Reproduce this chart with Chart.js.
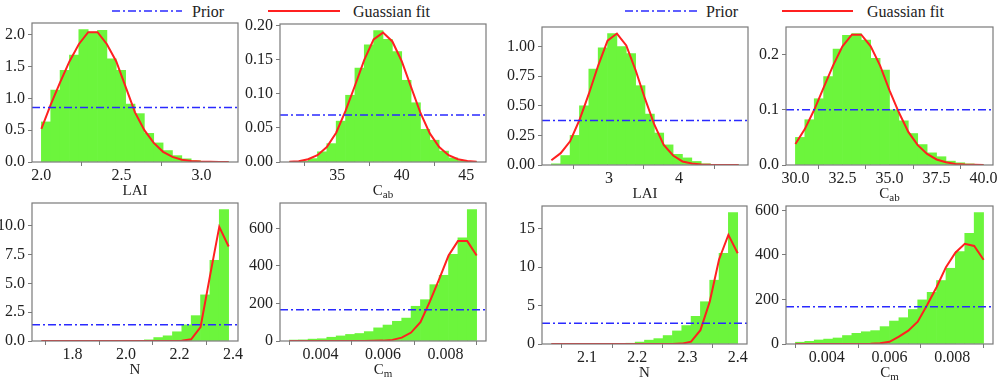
<!DOCTYPE html>
<html>
<head>
<meta charset="utf-8">
<script src="https://cdn.jsdelivr.net/npm/chart.js@4.4.1/dist/chart.umd.min.js"></script>
<style>
  body { margin: 0; background: #fff; width: 1000px; height: 383px; position: relative; overflow: hidden;
         font-family: 'Liberation Serif', 'Times New Roman', serif; color: #222; }
  canvas { position: absolute; }
  .lg { position: absolute; top: 0; font-size: 16px; line-height: 24px; white-space: nowrap; }
</style>
</head>
<body>
<svg style="position:absolute;left:0;top:0" width="1000" height="24">
  <line x1="112" y1="11" x2="182" y2="11" stroke="#2a2aff" stroke-width="1.6" stroke-dasharray="8 3 2 3"/>
  <line x1="268" y1="11" x2="340" y2="11" stroke="#ff2020" stroke-width="2"/>
  <line x1="625" y1="11" x2="697" y2="11" stroke="#2a2aff" stroke-width="1.6" stroke-dasharray="8 3 2 3"/>
  <line x1="782" y1="11" x2="853" y2="11" stroke="#ff2020" stroke-width="2"/>
</svg>
<span class="lg" style="left:192px">Prior</span>
<span class="lg" style="left:353px">Guassian fit</span>
<span class="lg" style="left:706px">Prior</span>
<span class="lg" style="left:867px">Guassian fit</span>

<script>
const lai1Range = [2.0, 3.17];
const lai1Hist = [0.63, 1.13, 1.44, 1.68, 2.08, 2.04, 2.07, 1.62, 1.44, 0.91, 0.76, 0.45, 0.30, 0.18, 0.10, 0.05, 0.02, 0.01, 0.005, 0.003];
const lai1Fit = [0.52, 0.90, 1.25, 1.58, 1.85, 2.04, 2.04, 1.85, 1.58, 1.18, 0.78, 0.50, 0.30, 0.16, 0.08, 0.035, 0.015, 0.006, 0.002, 0.001, 0.0005];
const lai1Prior = 0.855;
const lai1XTicks = ['2.0', '2.5', '3.0'];
const lai1YTicks = ['0.0', '0.5', '1.0', '1.5', '2.0'];

const cab1Range = [31.3, 45.8];
const cab1Hist = [0.0005, 0.001, 0.005, 0.015, 0.027, 0.060, 0.098, 0.138, 0.172, 0.193, 0.180, 0.162, 0.120, 0.087, 0.048, 0.032, 0.016, 0.006, 0.002, 0.001];
const cab1Fit = [0.0005, 0.001, 0.004, 0.010, 0.022, 0.043, 0.075, 0.112, 0.150, 0.180, 0.190, 0.177, 0.148, 0.110, 0.072, 0.042, 0.022, 0.010, 0.004, 0.0015, 0.0005];
const cab1Prior = 0.069;
const cab1XTicks = ['35', '40', '45'];
const cab1YTicks = ['0.00', '0.05', '0.10', '0.15', '0.20'];

const lai2Range = [2.18, 4.85];
const lai2Hist = [0.01, 0.08, 0.25, 0.50, 0.81, 0.99, 1.11, 1.00, 0.94, 0.67, 0.43, 0.27, 0.17, 0.09, 0.06, 0.03, 0.01, 0.005, 0.002, 0.001];
const lai2Fit = [0.04, 0.10, 0.20, 0.38, 0.60, 0.84, 1.05, 1.11, 1.01, 0.80, 0.56, 0.34, 0.17, 0.08, 0.03, 0.012, 0.005, 0.002, 0.001, 0.0005, 0.0002];
const lai2Prior = 0.375;
const lai2XTicks = ['3', '4'];
const lai2YTicks = ['0.00', '0.25', '0.50', '0.75', '1.00'];

const cab2Range = [30.0, 40.0];
const cab2Hist = [0.050, 0.082, 0.120, 0.160, 0.210, 0.235, 0.238, 0.226, 0.193, 0.172, 0.100, 0.080, 0.057, 0.037, 0.022, 0.015, 0.007, 0.004, 0.002, 0.001];
const cab2Fit = [0.038, 0.065, 0.100, 0.140, 0.180, 0.215, 0.236, 0.236, 0.215, 0.180, 0.135, 0.095, 0.060, 0.036, 0.020, 0.010, 0.005, 0.002, 0.001, 0.0005, 0.0002];
const cab2Prior = 0.1;
const cab2XTicks = ['30.0', '32.5', '35.0', '37.5', '40.0'];
const cab2YTicks = ['0.0', '0.1', '0.2'];

const n1Range = [1.683, 2.384];
const n1Hist = [0, 0, 0, 0, 0, 0, 0, 0, 0, 0, 0.03, 0.1, 0.3, 0.45, 0.8, 1.4, 2.2, 4.0, 7.0, 11.4];
const n1Fit = [0, 0, 0, 0, 0, 0, 0, 0, 0, 0, 0, 0, 0, 0, 0.002, 0.02, 0.15, 1.2, 5.6, 9.9, 8.2];
const n1Prior = 1.42;
const n1XTicks = ['1.8', '2.0', '2.2', '2.4'];
const n1YTicks = ['0.0', '2.5', '5.0', '7.5', '10.0'];

const cm1Range = [0.003, 0.009];
const cm1Hist = [5, 6, 10, 12, 20, 27, 35, 40, 50, 70, 85, 105, 122, 185, 220, 300, 350, 462, 550, 700];
const cm1Fit = [0, 0, 0, 0, 0, 0, 0, 0.1, 0.3, 0.8, 2, 6, 18, 45, 100, 210, 330, 455, 532, 532, 455];
const cm1Prior = 166.7;
const cm1XTicks = ['0.004', '0.006', '0.008'];
const cm1YTicks = ['0', '200', '400', '600'];

const n2Range = [2.029, 2.4];
const n2Hist = [0, 0, 0, 0, 0, 0.01, 0.02, 0.05, 0.1, 0.25, 0.5, 0.7, 1.1, 1.7, 2.4, 3.6, 5.5, 8.3, 11.8, 17.1];
const n2Fit = [0, 0, 0, 0, 0, 0, 0, 0, 0, 0, 0, 0, 0, 0.005, 0.05, 0.3, 1.8, 5.5, 11.0, 14.2, 11.8];
const n2Prior = 2.7;
const n2XTicks = ['2.1', '2.2', '2.3', '2.4'];
const n2YTicks = ['0', '5', '10', '15'];

const cm2Range = [0.003, 0.009];
const cm2Hist = [8, 12, 18, 22, 27, 38, 48, 55, 60, 78, 103, 118, 155, 198, 232, 285, 340, 415, 497, 590];
const cm2Fit = [0, 0, 0, 0, 0, 0, 0, 0.3, 1, 3, 10, 33, 60, 100, 175, 255, 345, 410, 450, 440, 378];
const cm2Prior = 166.7;
const cm2XTicks = ['0.004', '0.006', '0.008'];
const cm2YTicks = ['0', '200', '400', '600'];

// ---- layout ----
const PAD_L = 44, PAD_T = 8, PAD_R = 10, PAD_B = 44;
const SERIF = "'Liberation Serif', 'Times New Roman', serif";
const BAR_COLOR = '#6cf53c';
const FIT_COLOR = '#ff2020';
const PRIOR_COLOR = '#2a2aff';
const FRAME_COLOR = '#7a7a7a';

const panels = [
  { box: [32, 23, 238, 162], range: lai1Range, hist: lai1Hist, fit: lai1Fit, prior: lai1Prior, xt: lai1XTicks, yt: lai1YTicks, title: ['LAI', ''] },
  { box: [280, 24, 486, 162], range: cab1Range, hist: cab1Hist, fit: cab1Fit, prior: cab1Prior, xt: cab1XTicks, yt: cab1YTicks, title: ['C', 'ab'] },
  { box: [542, 27, 748, 165], range: lai2Range, hist: lai2Hist, fit: lai2Fit, prior: lai2Prior, xt: lai2XTicks, yt: lai2YTicks, title: ['LAI', ''] },
  { box: [786, 27, 993, 165], range: cab2Range, hist: cab2Hist, fit: cab2Fit, prior: cab2Prior, xt: cab2XTicks, yt: cab2YTicks, title: ['C', 'ab'] },
  { box: [32, 203, 238, 341], range: n1Range, hist: n1Hist, fit: n1Fit, prior: n1Prior, xt: n1XTicks, yt: n1YTicks, title: ['N', ''] },
  { box: [280, 203, 486, 341], range: cm1Range, hist: cm1Hist, fit: cm1Fit, prior: cm1Prior, xt: cm1XTicks, yt: cm1YTicks, title: ['C', 'm'] },
  { box: [542, 206, 747, 344], range: n2Range, hist: n2Hist, fit: n2Fit, prior: n2Prior, xt: n2XTicks, yt: n2YTicks, title: ['N', ''] },
  { box: [786, 206, 993, 344], range: cm2Range, hist: cm2Hist, fit: cm2Fit, prior: cm2Prior, xt: cm2XTicks, yt: cm2YTicks, title: ['C', 'm'] }
];

Chart.defaults.font.family = SERIF;
Chart.defaults.color = '#222';

// full box around the plot area
const framePlugin = {
  id: 'frame',
  afterDatasetsDraw(chart) {
    const a = chart.chartArea, ctx = chart.ctx;
    ctx.save();
    ctx.strokeStyle = FRAME_COLOR;
    ctx.lineWidth = 1.2;
    ctx.strokeRect(a.left, a.top, a.right - a.left, a.bottom - a.top);
    ctx.restore();
  }
};

// x axis title with an optional subscript (C_ab, C_m)
const subTitlePlugin = {
  id: 'subTitle',
  afterDraw(chart, args, opts) {
    const a = chart.chartArea, ctx = chart.ctx;
    const main = opts.main, sub = opts.sub;
    ctx.save();
    ctx.fillStyle = '#222';
    ctx.textBaseline = 'alphabetic';
    ctx.font = '15px ' + SERIF;
    const wm = ctx.measureText(main).width;
    ctx.font = '11px ' + SERIF;
    const ws = sub ? ctx.measureText(sub).width : 0;
    const x = (a.left + a.right) / 2 - (wm + ws) / 2;
    const y = a.bottom + 33;
    ctx.font = '15px ' + SERIF;
    ctx.fillText(main, x, y);
    if (sub) {
      ctx.font = '11px ' + SERIF;
      ctx.fillText(sub, x + wm, y + 3);
    }
    ctx.restore();
  }
};

panels.forEach(function (p) {
  const [l, t, r, b] = p.box;
  const canvas = document.createElement('canvas');
  canvas.width = r - l + PAD_L + PAD_R;
  canvas.height = b - t + PAD_T + PAD_B;
  canvas.style.left = (l - PAD_L) + 'px';
  canvas.style.top = (t - PAD_T) + 'px';
  document.body.appendChild(canvas);

  const lo = p.range[0], hi = p.range[1];
  const n = p.hist.length;
  const w = (hi - lo) / n;
  const bars = p.hist.map((v, i) => ({ x: lo + (i + 0.5) * w, y: v }));
  const fit = p.fit.map((v, i) => ({ x: lo + i * w, y: v }));
  const margin = (hi - lo) * 0.05;
  const xMin = lo - margin, xMax = hi + margin;
  const yMax = Math.max(...p.hist, ...p.fit) * 1.05;
  const xVals = p.xt.map(parseFloat);
  const yVals = p.yt.map(parseFloat);

  const tickGrid = { display: true, drawOnChartArea: false, drawTicks: true, tickLength: 4, color: FRAME_COLOR, lineWidth: 1 };
  const tickFont = { family: SERIF, size: 16 };

  new Chart(canvas.getContext('2d'), {
    type: 'bar',
    data: {
      datasets: [
        { type: 'line', data: [{ x: xMin, y: p.prior }, { x: xMax, y: p.prior }], borderColor: PRIOR_COLOR,
          borderWidth: 1.5, borderDash: [8, 3, 2, 3], pointRadius: 0, order: 0 },
        { type: 'line', data: fit, borderColor: FIT_COLOR, borderWidth: 2, pointRadius: 0, tension: 0, order: 1 },
        { type: 'bar', data: bars, backgroundColor: BAR_COLOR, borderWidth: 0,
          barPercentage: 1, categoryPercentage: 1, order: 2 }
      ]
    },
    options: {
      responsive: false,
      animation: false,
      events: [],
      layout: { padding: { top: PAD_T, right: PAD_R, left: 0, bottom: 0 } },
      plugins: { legend: { display: false }, tooltip: { enabled: false }, subTitle: { main: p.title[0], sub: p.title[1] } },
      scales: {
        x: {
          type: 'linear', min: xMin, max: xMax, offset: false,
          grid: tickGrid, border: { display: false },
          ticks: { font: tickFont, color: '#222', padding: 0, maxRotation: 0, autoSkip: false,
                   callback: (v, i) => p.xt[i] },
          afterBuildTicks: s => { s.ticks = xVals.map(v => ({ value: v })); },
          afterFit: s => { s.height = PAD_B; s.paddingLeft = 0; s.paddingRight = 0; }
        },
        y: {
          min: 0, max: yMax,
          grid: tickGrid, border: { display: false },
          ticks: { font: tickFont, color: '#222', padding: 3, callback: (v, i) => p.yt[i] },
          afterBuildTicks: s => { s.ticks = yVals.map(v => ({ value: v })); },
          afterFit: s => { s.width = PAD_L; s.paddingTop = 0; s.paddingBottom = 0; }
        }
      }
    },
    plugins: [framePlugin, subTitlePlugin]
  });
});
</script>
</body>
</html>
